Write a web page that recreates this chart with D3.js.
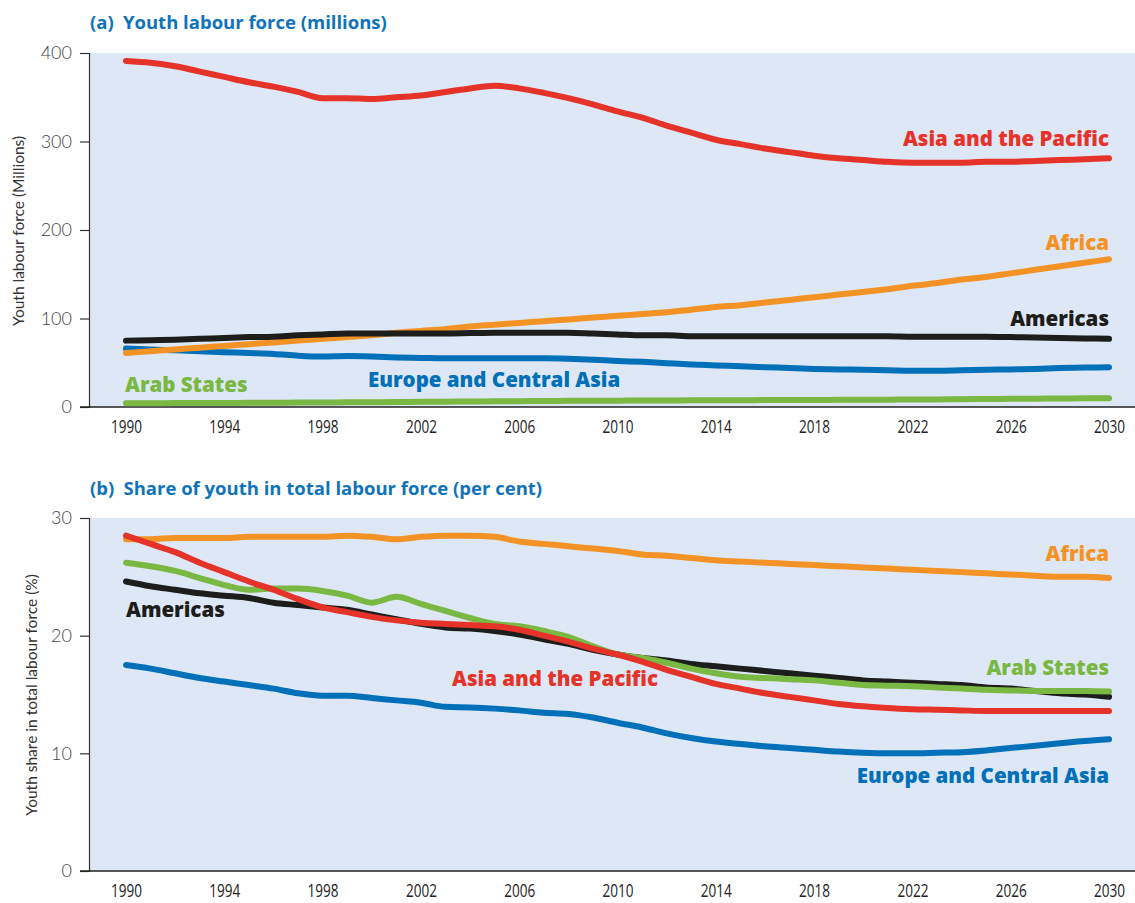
<!DOCTYPE html>
<html><head><meta charset="utf-8">
<script src="https://cdn.jsdelivr.net/npm/d3@7"></script>
<style>
body{margin:0;background:#fff;}
svg{display:block;}
</style></head>
<body><svg id="chart" width="1135" height="903"></svg>
<script>
const years = d3.range(1990, 2031);
const xTicks = [1990,1994,1998,2002,2006,2010,2014,2018,2022,2026,2030];
const yTicksA = [0,100,200,300,400];
const yTicksB = [0,10,20,30];

// Panel (a): youth labour force (millions)
const asiaA = [391,389,385,379,373,367,362,356,349,349,348,350,352,356,360,363,360,355,349,342,334,327,318,310,302,297,292,288,284,281,279,277,276,276,276,277,277,278,279,280,281];
const africaA = [61,63,65,67,69,71,73,75,77,79,81,84,86,88,91,93,95,97,99,101,103,105,107,110,113,115,118,121,124,127,130,133,137,140,144,147,151,155,159,163,167];
const americasA = [75,75.5,76,77,78,79,79.5,81,82,83,83,83,83,83,83.5,84,84,84,84,83,82,81,81,80,80,80,80,80,80,80,80,80,79.5,79.5,79.5,79.5,79,78.5,78,77.5,77];
const europeA = [66,65,64,63,62,61,60,58,57,57.5,57,56,55.5,55,55,55,55,55,54.5,53.5,52,51,49.5,48,47,46,45,44,43,42.5,42,41.5,41,41,41.5,42,42.5,43,44,44.5,45];
const arabA = [4.2,4.3,4.4,4.5,4.6,4.7,4.8,5.0,5.1,5.3,5.4,5.6,5.8,6.0,6.2,6.4,6.6,6.8,7.0,7.1,7.2,7.3,7.4,7.5,7.6,7.7,7.8,7.9,8.0,8.1,8.2,8.3,8.4,8.6,8.8,9.0,9.2,9.4,9.6,9.8,10.0];

// Panel (b): share of youth in total labour force (%)
const asiaB = [28.5,27.8,27.1,26.2,25.4,24.6,23.9,23.1,22.4,22.0,21.6,21.3,21.1,21.0,20.9,20.8,20.5,20.0,19.5,18.9,18.4,17.8,17.1,16.5,15.9,15.5,15.1,14.8,14.5,14.2,14.0,13.85,13.75,13.7,13.65,13.6,13.6,13.6,13.6,13.6,13.6];
const africaB = [28.2,28.2,28.3,28.3,28.3,28.4,28.4,28.4,28.4,28.5,28.4,28.2,28.4,28.5,28.5,28.4,28.0,27.8,27.6,27.4,27.2,26.9,26.8,26.6,26.4,26.3,26.2,26.1,26.0,25.9,25.8,25.7,25.6,25.5,25.4,25.3,25.2,25.1,25.0,25.0,24.9];
const americasB = [24.6,24.2,23.9,23.6,23.4,23.2,22.8,22.6,22.4,22.2,21.8,21.4,21.0,20.7,20.6,20.4,20.1,19.7,19.3,18.8,18.4,18.1,17.9,17.6,17.4,17.2,17.0,16.8,16.6,16.4,16.2,16.1,16.0,15.9,15.8,15.6,15.5,15.3,15.1,15.0,14.8];
const arabB = [26.2,25.9,25.5,24.9,24.3,23.9,24.0,24.0,23.8,23.4,22.8,23.3,22.7,22.1,21.5,21.0,20.8,20.4,19.9,19.1,18.4,18.1,17.7,17.2,16.8,16.5,16.4,16.3,16.2,16.0,15.8,15.75,15.7,15.6,15.5,15.4,15.35,15.3,15.3,15.3,15.25];
const europeB = [17.5,17.2,16.8,16.4,16.1,15.8,15.5,15.1,14.9,14.9,14.7,14.5,14.3,13.95,13.9,13.8,13.65,13.45,13.35,13.05,12.6,12.2,11.7,11.3,11.0,10.8,10.6,10.45,10.3,10.15,10.05,10.0,10.0,10.05,10.1,10.25,10.45,10.65,10.85,11.05,11.2];

const COL = {asia:"#e5332a", africa:"#f39325", americas:"#1d1d1b", europe:"#0070b8", arab:"#78b843"};
const TITLE_COL = "#0f73b9";

const svg = d3.select("#chart");
const x = d3.scaleLinear().domain([1990, 2030]).range([126, 1109]);

function panel(cfg){
  const g = svg.append("g");
  const y = d3.scaleLinear().domain(cfg.domain).range([cfg.bottom, cfg.top]);
  g.append("rect").attr("x", 89).attr("y", cfg.top).attr("width", 1135-89).attr("height", cfg.bottom-cfg.top).attr("fill", "#dee7f5");
  // title
  g.append("text").attr("x", 90).attr("y", cfg.titleY).attr("fill", TITLE_COL)
    .attr("font-family", "Open Sans").attr("font-weight", 700).attr("font-size", 18.5)
    .text(cfg.title);
  // y axis
  const ya = d3.axisLeft(y).tickValues(cfg.yTicks).tickSize(9).tickPadding(8).tickFormat(d3.format("d"));
  const yg = g.append("g").attr("transform", "translate(89,0)").call(ya);
  yg.select(".domain").attr("stroke", "#333").attr("stroke-width", 1.2);
  yg.selectAll(".tick line").attr("stroke", "#333").attr("stroke-width", 1.2);
  yg.selectAll(".tick text").attr("font-family", "Lato").attr("font-weight", 300).attr("font-size", 18).attr("fill", "#444");
  // x axis
  const xa = d3.axisBottom(x).tickValues(xTicks).tickSize(0).tickPadding(14).tickFormat(d3.format("d"));
  const xg = g.append("g").attr("transform", `translate(0,${cfg.bottom})`).call(xa);
  xg.select(".domain").remove();
  xg.selectAll(".tick text").attr("y", 26).attr("dy", null)
    .attr("font-family", "Open Sans").attr("font-size", 18).attr("fill", "#222")
    .attr("textLength", 31).attr("lengthAdjust", "spacingAndGlyphs");
  g.append("line").attr("x1", 80).attr("x2", 1135).attr("y1", cfg.bottom).attr("y2", cfg.bottom).attr("stroke", "#222").attr("stroke-width", 1.5);
  // y title
  g.append("text").attr("transform", `translate(${cfg.yTitleX},${cfg.yTitleY}) rotate(-90)`)
    .attr("text-anchor", "middle").attr("font-family", "Lato").attr("font-size", 15.5).attr("fill", "#333")
    .text(cfg.yTitle);
  const line = d3.line().x((d,i)=>x(years[i])).y(d=>y(d)).curve(d3.curveMonotoneX);
  cfg.series.forEach(s=>{
    g.append("path").datum(s.values).attr("d", line).attr("fill","none")
      .attr("stroke", s.color).attr("stroke-width", 6).attr("stroke-linecap","round").attr("stroke-linejoin","round");
  });
  cfg.labels.forEach(l=>{
    g.append("text").attr("x", l.x).attr("y", l.y).attr("text-anchor", l.anchor)
      .attr("font-family", "Open Sans").attr("font-weight", 800).attr("font-size", 20.5).attr("fill", l.color)
      .text(l.text);
  });
}

panel({
  title: "(a)\u2002Youth labour force (millions)", titleY: 29,
  domain: [0, 400], top: 53, bottom: 407, yTicks: yTicksA,
  yTitle: "Youth labour force (Millions)", yTitleX: 24, yTitleY: 231,
  series: [
    {values: arabA, color: COL.arab},
    {values: europeA, color: COL.europe},
    {values: africaA, color: COL.africa},
    {values: americasA, color: COL.americas},
    {values: asiaA, color: COL.asia}
  ],
  labels: [
    {text: "Asia and the Pacific", x: 1109, y: 146, anchor: "end", color: COL.asia},
    {text: "Africa", x: 1109, y: 250, anchor: "end", color: COL.africa},
    {text: "Americas", x: 1109, y: 326, anchor: "end", color: COL.americas},
    {text: "Europe and Central Asia", x: 368, y: 387, anchor: "start", color: COL.europe},
    {text: "Arab States", x: 125, y: 392, anchor: "start", color: COL.arab}
  ]
});

panel({
  title: "(b)\u2002Share of youth in total labour force (per cent)", titleY: 495,
  domain: [0, 30], top: 518, bottom: 871, yTicks: yTicksB,
  yTitle: "Youth share in total labour force (%)", yTitleX: 37, yTitleY: 695,
  series: [
    {values: europeB, color: COL.europe},
    {values: africaB, color: COL.africa},
    {values: americasB, color: COL.americas},
    {values: arabB, color: COL.arab},
    {values: asiaB, color: COL.asia}
  ],
  labels: [
    {text: "Africa", x: 1109, y: 561, anchor: "end", color: COL.africa},
    {text: "Americas", x: 126, y: 617, anchor: "start", color: COL.americas},
    {text: "Arab States", x: 1109, y: 675, anchor: "end", color: COL.arab},
    {text: "Asia and the Pacific", x: 452, y: 686, anchor: "start", color: COL.asia},
    {text: "Europe and Central Asia", x: 1109, y: 783, anchor: "end", color: COL.europe}
  ]
});
</script></body></html>
